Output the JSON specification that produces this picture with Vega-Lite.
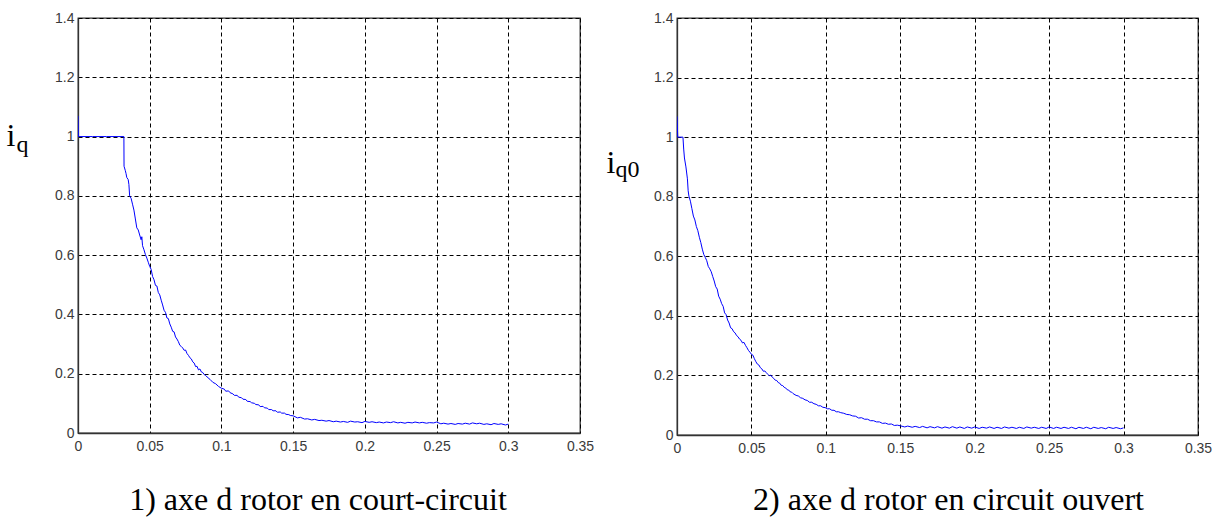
{
  "$schema": "https://vega.github.io/schema/vega-lite/v6.json",
  "background": "white",
  "padding": {"left": 5, "top": 10, "right": 5, "bottom": 0},
  "spacing": 10,
  "config": {
    "view": {"stroke": "#333", "strokeWidth": 1.3},
    "axis": {
      "labelFont": "Liberation Sans",
      "labelFontSize": 14,
      "labelColor": "#3a3a3a",
      "labelFlush": false,
      "labelOverlap": false,
      "ticks": false,
      "grid": true,
      "gridDash": [4, 3],
      "gridColor": "#000",
      "gridWidth": 1,
      "domainColor": "#333",
      "domainWidth": 1.3,
      "titleFont": "Liberation Serif",
      "titleFontWeight": "normal",
      "titleColor": "#000",
      "titleAngle": 0,
      "titleAlign": "left",
      "titleBaseline": "alphabetic"
    },
    "title": {"font": "Liberation Serif", "fontSize": 32, "fontWeight": "normal", "color": "#000", "orient": "bottom", "anchor": "middle", "baseline": "alphabetic"}
  },
  "datasets": {
    "cc": [
      {"t": 0, "i": 1.07}, {"t": 0.0003, "i": 1.0}, {"t": 0.01, "i": 1.0}, {"t": 0.02, "i": 1.0}, {"t": 0.032, "i": 1.0},
      {"t": 0.0321, "i": 0.9}, {"t": 0.033, "i": 0.885}, {"t": 0.0335, "i": 0.875}, {"t": 0.034, "i": 0.862}, {"t": 0.035, "i": 0.855},
      {"t": 0.0355, "i": 0.838}, {"t": 0.036, "i": 0.8}, {"t": 0.037, "i": 0.792}, {"t": 0.038, "i": 0.772}, {"t": 0.039, "i": 0.752},
      {"t": 0.04, "i": 0.722}, {"t": 0.041, "i": 0.692}, {"t": 0.042, "i": 0.685}, {"t": 0.043, "i": 0.668}, {"t": 0.044, "i": 0.652},
      {"t": 0.0445, "i": 0.662}, {"t": 0.045, "i": 0.632}, {"t": 0.046, "i": 0.618}, {"t": 0.047, "i": 0.602}, {"t": 0.048, "i": 0.59},
      {"t": 0.049, "i": 0.576}, {"t": 0.05, "i": 0.562}, {"t": 0.051, "i": 0.552}, {"t": 0.052, "i": 0.528}, {"t": 0.053, "i": 0.517},
      {"t": 0.054, "i": 0.498}, {"t": 0.055, "i": 0.496}, {"t": 0.056, "i": 0.474}, {"t": 0.057, "i": 0.466}, {"t": 0.058, "i": 0.448},
      {"t": 0.059, "i": 0.432}, {"t": 0.06, "i": 0.414}, {"t": 0.061, "i": 0.407}, {"t": 0.062, "i": 0.388}, {"t": 0.063, "i": 0.386},
      {"t": 0.064, "i": 0.368}, {"t": 0.065, "i": 0.357}, {"t": 0.066, "i": 0.343}, {"t": 0.067, "i": 0.341}, {"t": 0.068, "i": 0.324},
      {"t": 0.069, "i": 0.317}, {"t": 0.07, "i": 0.308}, {"t": 0.071, "i": 0.296}, {"t": 0.072, "i": 0.292}, {"t": 0.073, "i": 0.287}, {"t": 0.074, "i": 0.279}, {"t": 0.075, "i": 0.280}, {"t": 0.076, "i": 0.268},
      {"t": 0.077, "i": 0.262}, {"t": 0.078, "i": 0.254}, {"t": 0.079, "i": 0.250}, {"t": 0.08, "i": 0.240}, {"t": 0.081, "i": 0.236}, {"t": 0.082, "i": 0.224}, {"t": 0.083, "i": 0.225}, {"t": 0.084, "i": 0.213}, {"t": 0.085, "i": 0.216}, {"t": 0.086, "i": 0.206},
      {"t": 0.087, "i": 0.204}, {"t": 0.088, "i": 0.197}, {"t": 0.089, "i": 0.194}, {"t": 0.09, "i": 0.189}, {"t": 0.092, "i": 0.181}, {"t": 0.094, "i": 0.171}, {"t": 0.096, "i": 0.166},
      {"t": 0.098, "i": 0.157}, {"t": 0.1, "i": 0.151}, {"t": 0.102, "i": 0.148}, {"t": 0.103, "i": 0.141}, {"t": 0.105, "i": 0.142}, {"t": 0.106, "i": 0.136}, {"t": 0.108, "i": 0.132}, {"t": 0.109, "i": 0.127},
      {"t": 0.111, "i": 0.127}, {"t": 0.112, "i": 0.121}, {"t": 0.114, "i": 0.119}, {"t": 0.115, "i": 0.114}, {"t": 0.117, "i": 0.113}, {"t": 0.118, "i": 0.107}, {"t": 0.12, "i": 0.106}, {"t": 0.121, "i": 0.102}, {"t": 0.123, "i": 0.100}, {"t": 0.124, "i": 0.096},
      {"t": 0.126, "i": 0.095}, {"t": 0.127, "i": 0.089}, {"t": 0.129, "i": 0.090}, {"t": 0.13, "i": 0.085}, {"t": 0.132, "i": 0.084}, {"t": 0.133, "i": 0.079}, {"t": 0.135, "i": 0.079}, {"t": 0.136, "i": 0.075}, {"t": 0.138, "i": 0.075}, {"t": 0.139, "i": 0.070},
      {"t": 0.141, "i": 0.071}, {"t": 0.142, "i": 0.067}, {"t": 0.144, "i": 0.067}, {"t": 0.145, "i": 0.063}, {"t": 0.147, "i": 0.062}, {"t": 0.148, "i": 0.059},
      {"t": 0.15, "i": 0.058}, {"t": 0.153, "i": 0.051}, {"t": 0.155, "i": 0.053}, {"t": 0.158, "i": 0.047}, {"t": 0.16, "i": 0.048},
      {"t": 0.163, "i": 0.044}, {"t": 0.165, "i": 0.046}, {"t": 0.168, "i": 0.042}, {"t": 0.17, "i": 0.043}, {"t": 0.173, "i": 0.04},
      {"t": 0.175, "i": 0.042}, {"t": 0.178, "i": 0.038}, {"t": 0.18, "i": 0.04}, {"t": 0.183, "i": 0.037}, {"t": 0.185, "i": 0.039},
      {"t": 0.188, "i": 0.036}, {"t": 0.19, "i": 0.04}, {"t": 0.193, "i": 0.037}, {"t": 0.195, "i": 0.038}, {"t": 0.198, "i": 0.035},
      {"t": 0.2, "i": 0.039}, {"t": 0.203, "i": 0.036}, {"t": 0.205, "i": 0.038}, {"t": 0.208, "i": 0.035}, {"t": 0.21, "i": 0.037},
      {"t": 0.213, "i": 0.034}, {"t": 0.215, "i": 0.037}, {"t": 0.218, "i": 0.035}, {"t": 0.22, "i": 0.038}, {"t": 0.223, "i": 0.034},
      {"t": 0.225, "i": 0.036}, {"t": 0.228, "i": 0.033}, {"t": 0.23, "i": 0.036}, {"t": 0.233, "i": 0.034}, {"t": 0.235, "i": 0.037},
      {"t": 0.238, "i": 0.034}, {"t": 0.24, "i": 0.036}, {"t": 0.243, "i": 0.033}, {"t": 0.245, "i": 0.035}, {"t": 0.248, "i": 0.034},
      {"t": 0.25, "i": 0.037}, {"t": 0.253, "i": 0.031}, {"t": 0.255, "i": 0.033}, {"t": 0.258, "i": 0.03}, {"t": 0.26, "i": 0.032},
      {"t": 0.263, "i": 0.029}, {"t": 0.265, "i": 0.032}, {"t": 0.268, "i": 0.03}, {"t": 0.27, "i": 0.033}, {"t": 0.273, "i": 0.03},
      {"t": 0.275, "i": 0.034}, {"t": 0.278, "i": 0.031}, {"t": 0.28, "i": 0.033}, {"t": 0.283, "i": 0.029}, {"t": 0.285, "i": 0.031},
      {"t": 0.288, "i": 0.028}, {"t": 0.29, "i": 0.032}, {"t": 0.293, "i": 0.029}, {"t": 0.295, "i": 0.031}, {"t": 0.298, "i": 0.027},
      {"t": 0.3, "i": 0.03}
    ],
    "co": [
      {"t": 0, "i": 1.07}, {"t": 0.0005, "i": 1.0}, {"t": 0.004, "i": 1.0}, {"t": 0.0045, "i": 0.96}, {"t": 0.005, "i": 0.93},
      {"t": 0.006, "i": 0.9}, {"t": 0.007, "i": 0.86}, {"t": 0.0075, "i": 0.82}, {"t": 0.008, "i": 0.802}, {"t": 0.009, "i": 0.785},
      {"t": 0.01, "i": 0.76}, {"t": 0.011, "i": 0.735}, {"t": 0.012, "i": 0.722}, {"t": 0.013, "i": 0.7}, {"t": 0.014, "i": 0.686},
      {"t": 0.015, "i": 0.664}, {"t": 0.016, "i": 0.646}, {"t": 0.017, "i": 0.624}, {"t": 0.018, "i": 0.606}, {"t": 0.019, "i": 0.596},
      {"t": 0.02, "i": 0.585}, {"t": 0.021, "i": 0.566}, {"t": 0.022, "i": 0.558}, {"t": 0.023, "i": 0.548}, {"t": 0.024, "i": 0.532}, {"t": 0.025, "i": 0.517}, {"t": 0.026, "i": 0.498}, {"t": 0.027, "i": 0.49}, {"t": 0.028, "i": 0.466},
      {"t": 0.029, "i": 0.456}, {"t": 0.03, "i": 0.441}, {"t": 0.031, "i": 0.432}, {"t": 0.032, "i": 0.41}, {"t": 0.033, "i": 0.404}, {"t": 0.034, "i": 0.386}, {"t": 0.035, "i": 0.376}, {"t": 0.036, "i": 0.36}, {"t": 0.037, "i": 0.357}, {"t": 0.038, "i": 0.347},
      {"t": 0.039, "i": 0.343}, {"t": 0.04, "i": 0.334}, {"t": 0.041, "i": 0.33}, {"t": 0.042, "i": 0.322}, {"t": 0.043, "i": 0.318}, {"t": 0.044, "i": 0.309}, {"t": 0.045, "i": 0.311}, {"t": 0.046, "i": 0.301}, {"t": 0.047, "i": 0.293}, {"t": 0.048, "i": 0.284},
      {"t": 0.049, "i": 0.278}, {"t": 0.05, "i": 0.271}, {"t": 0.051, "i": 0.268}, {"t": 0.052, "i": 0.256}, {"t": 0.053, "i": 0.246}, {"t": 0.054, "i": 0.238}, {"t": 0.055, "i": 0.235}, {"t": 0.056, "i": 0.226}, {"t": 0.057, "i": 0.222}, {"t": 0.058, "i": 0.214},
      {"t": 0.059, "i": 0.215}, {"t": 0.06, "i": 0.209}, {"t": 0.061, "i": 0.204}, {"t": 0.062, "i": 0.199}, {"t": 0.063, "i": 0.201}, {"t": 0.064, "i": 0.194}, {"t": 0.065, "i": 0.19}, {"t": 0.066, "i": 0.184}, {"t": 0.067, "i": 0.183}, {"t": 0.068, "i": 0.176},
      {"t": 0.069, "i": 0.174}, {"t": 0.07, "i": 0.167}, {"t": 0.071, "i": 0.166}, {"t": 0.072, "i": 0.16}, {"t": 0.073, "i": 0.158}, {"t": 0.074, "i": 0.152}, {"t": 0.075, "i": 0.151}, {"t": 0.076, "i": 0.145}, {"t": 0.077, "i": 0.144}, {"t": 0.078, "i": 0.139},
      {"t": 0.08, "i": 0.133}, {"t": 0.0815, "i": 0.131}, {"t": 0.083, "i": 0.125}, {"t": 0.0845, "i": 0.123}, {"t": 0.086, "i": 0.118}, {"t": 0.0875, "i": 0.116}, {"t": 0.089, "i": 0.11}, {"t": 0.0905, "i": 0.11}, {"t": 0.092, "i": 0.105},
      {"t": 0.0935, "i": 0.103}, {"t": 0.095, "i": 0.098}, {"t": 0.0965, "i": 0.098}, {"t": 0.098, "i": 0.093}, {"t": 0.0995, "i": 0.092}, {"t": 0.101, "i": 0.088}, {"t": 0.1025, "i": 0.088}, {"t": 0.104, "i": 0.083}, {"t": 0.1055, "i": 0.083}, {"t": 0.107, "i": 0.078},
      {"t": 0.1085, "i": 0.078}, {"t": 0.11, "i": 0.075}, {"t": 0.112, "i": 0.073}, {"t": 0.114, "i": 0.069}, {"t": 0.116, "i": 0.068}, {"t": 0.118, "i": 0.064}, {"t": 0.12, "i": 0.063}, {"t": 0.122, "i": 0.057}, {"t": 0.124, "i": 0.058}, {"t": 0.126, "i": 0.053},
      {"t": 0.128, "i": 0.053}, {"t": 0.13, "i": 0.048}, {"t": 0.132, "i": 0.048}, {"t": 0.134, "i": 0.044}, {"t": 0.136, "i": 0.044}, {"t": 0.138, "i": 0.039}, {"t": 0.14, "i": 0.04}, {"t": 0.142, "i": 0.036}, {"t": 0.144, "i": 0.037}, {"t": 0.146, "i": 0.032},
      {"t": 0.148, "i": 0.033}, {"t": 0.15, "i": 0.031}, {"t": 0.153, "i": 0.027}, {"t": 0.155, "i": 0.03}, {"t": 0.158, "i": 0.026}, {"t": 0.16, "i": 0.029},
      {"t": 0.163, "i": 0.025}, {"t": 0.165, "i": 0.029}, {"t": 0.168, "i": 0.024}, {"t": 0.17, "i": 0.028}, {"t": 0.173, "i": 0.024},
      {"t": 0.175, "i": 0.028}, {"t": 0.178, "i": 0.023}, {"t": 0.18, "i": 0.027}, {"t": 0.183, "i": 0.023}, {"t": 0.185, "i": 0.028},
      {"t": 0.188, "i": 0.023}, {"t": 0.19, "i": 0.027}, {"t": 0.193, "i": 0.022}, {"t": 0.195, "i": 0.027}, {"t": 0.198, "i": 0.023},
      {"t": 0.2, "i": 0.027}, {"t": 0.203, "i": 0.022}, {"t": 0.205, "i": 0.026}, {"t": 0.208, "i": 0.023}, {"t": 0.21, "i": 0.027},
      {"t": 0.213, "i": 0.022}, {"t": 0.215, "i": 0.026}, {"t": 0.218, "i": 0.022}, {"t": 0.22, "i": 0.027}, {"t": 0.223, "i": 0.023},
      {"t": 0.225, "i": 0.026}, {"t": 0.228, "i": 0.022}, {"t": 0.23, "i": 0.026}, {"t": 0.233, "i": 0.022}, {"t": 0.235, "i": 0.027},
      {"t": 0.238, "i": 0.023}, {"t": 0.24, "i": 0.026}, {"t": 0.243, "i": 0.022}, {"t": 0.245, "i": 0.026}, {"t": 0.248, "i": 0.022},
      {"t": 0.25, "i": 0.027}, {"t": 0.253, "i": 0.022}, {"t": 0.255, "i": 0.026}, {"t": 0.258, "i": 0.022}, {"t": 0.26, "i": 0.026},
      {"t": 0.263, "i": 0.022}, {"t": 0.265, "i": 0.026}, {"t": 0.268, "i": 0.021}, {"t": 0.27, "i": 0.026}, {"t": 0.273, "i": 0.022},
      {"t": 0.275, "i": 0.026}, {"t": 0.278, "i": 0.021}, {"t": 0.28, "i": 0.026}, {"t": 0.283, "i": 0.022}, {"t": 0.285, "i": 0.025},
      {"t": 0.288, "i": 0.021}, {"t": 0.29, "i": 0.026}, {"t": 0.293, "i": 0.022}, {"t": 0.295, "i": 0.025}, {"t": 0.298, "i": 0.021},
      {"t": 0.3, "i": 0.024}
    ]
  },
  "hconcat": [
    {
      "width": 502,
      "height": 415,
      "data": {"name": "cc"},
      "title": {"text": "1) axe d rotor en court-circuit", "offset": 32, "dx": -11},
      "layer": [
        {
          "mark": {"type": "line", "color": "#0000ff", "strokeWidth": 1, "clip": true},
          "encoding": {
            "x": {"field": "t", "type": "quantitative", "scale": {"domain": [0, 0.35], "nice": false, "zero": false},
              "axis": {"orient": "bottom", "values": [0, 0.05, 0.1, 0.15, 0.2, 0.25, 0.3, 0.35], "format": "~g", "labelPadding": 6, "title": null}},
            "y": {"field": "i", "type": "quantitative", "scale": {"domain": [0, 1.4], "nice": false},
              "axis": {"orient": "left", "values": [0, 0.2, 0.4, 0.6, 0.8, 1, 1.2, 1.4], "format": "~g", "labelPadding": 4,
                "title": "i", "titleFontSize": 32, "titleX": -72, "titleY": 127}}
          }
        },
        {
          "mark": {"type": "line", "opacity": 0},
          "encoding": {
            "x": {"field": "t", "type": "quantitative", "axis": null},
            "y": {"field": "i", "type": "quantitative",
              "axis": {"orient": "right", "labels": false, "grid": false, "domain": false, "ticks": false,
                "title": "q", "titleFontSize": 24, "titleX": -564, "titleY": 133}}
          }
        }
      ],
      "resolve": {"axis": {"x": "independent", "y": "independent"}}
    },
    {
      "width": 521,
      "height": 417,
      "data": {"name": "co"},
      "title": {"text": "2) axe d rotor en circuit ouvert", "offset": 30, "dx": 11},
      "layer": [
        {
          "mark": {"type": "line", "color": "#0000ff", "strokeWidth": 1, "clip": true},
          "encoding": {
            "x": {"field": "t", "type": "quantitative", "scale": {"domain": [0, 0.35], "nice": false, "zero": false},
              "axis": {"orient": "bottom", "values": [0, 0.05, 0.1, 0.15, 0.2, 0.25, 0.3, 0.35], "format": "~g", "labelPadding": 6, "title": null}},
            "y": {"field": "i", "type": "quantitative", "scale": {"domain": [0, 1.4], "nice": false},
              "axis": {"orient": "left", "values": [0, 0.2, 0.4, 0.6, 0.8, 1, 1.2, 1.4], "format": "~g", "labelPadding": 4,
                "title": "i", "titleFontSize": 32, "titleX": -71, "titleY": 154}}
          }
        },
        {
          "mark": {"type": "line", "opacity": 0},
          "encoding": {
            "x": {"field": "t", "type": "quantitative", "axis": null},
            "y": {"field": "i", "type": "quantitative",
              "axis": {"orient": "right", "labels": false, "grid": false, "domain": false, "ticks": false,
                "title": "q0", "titleFontSize": 24, "titleX": -583, "titleY": 158}}
          }
        }
      ],
      "resolve": {"axis": {"x": "independent", "y": "independent"}}
    }
  ]
}
